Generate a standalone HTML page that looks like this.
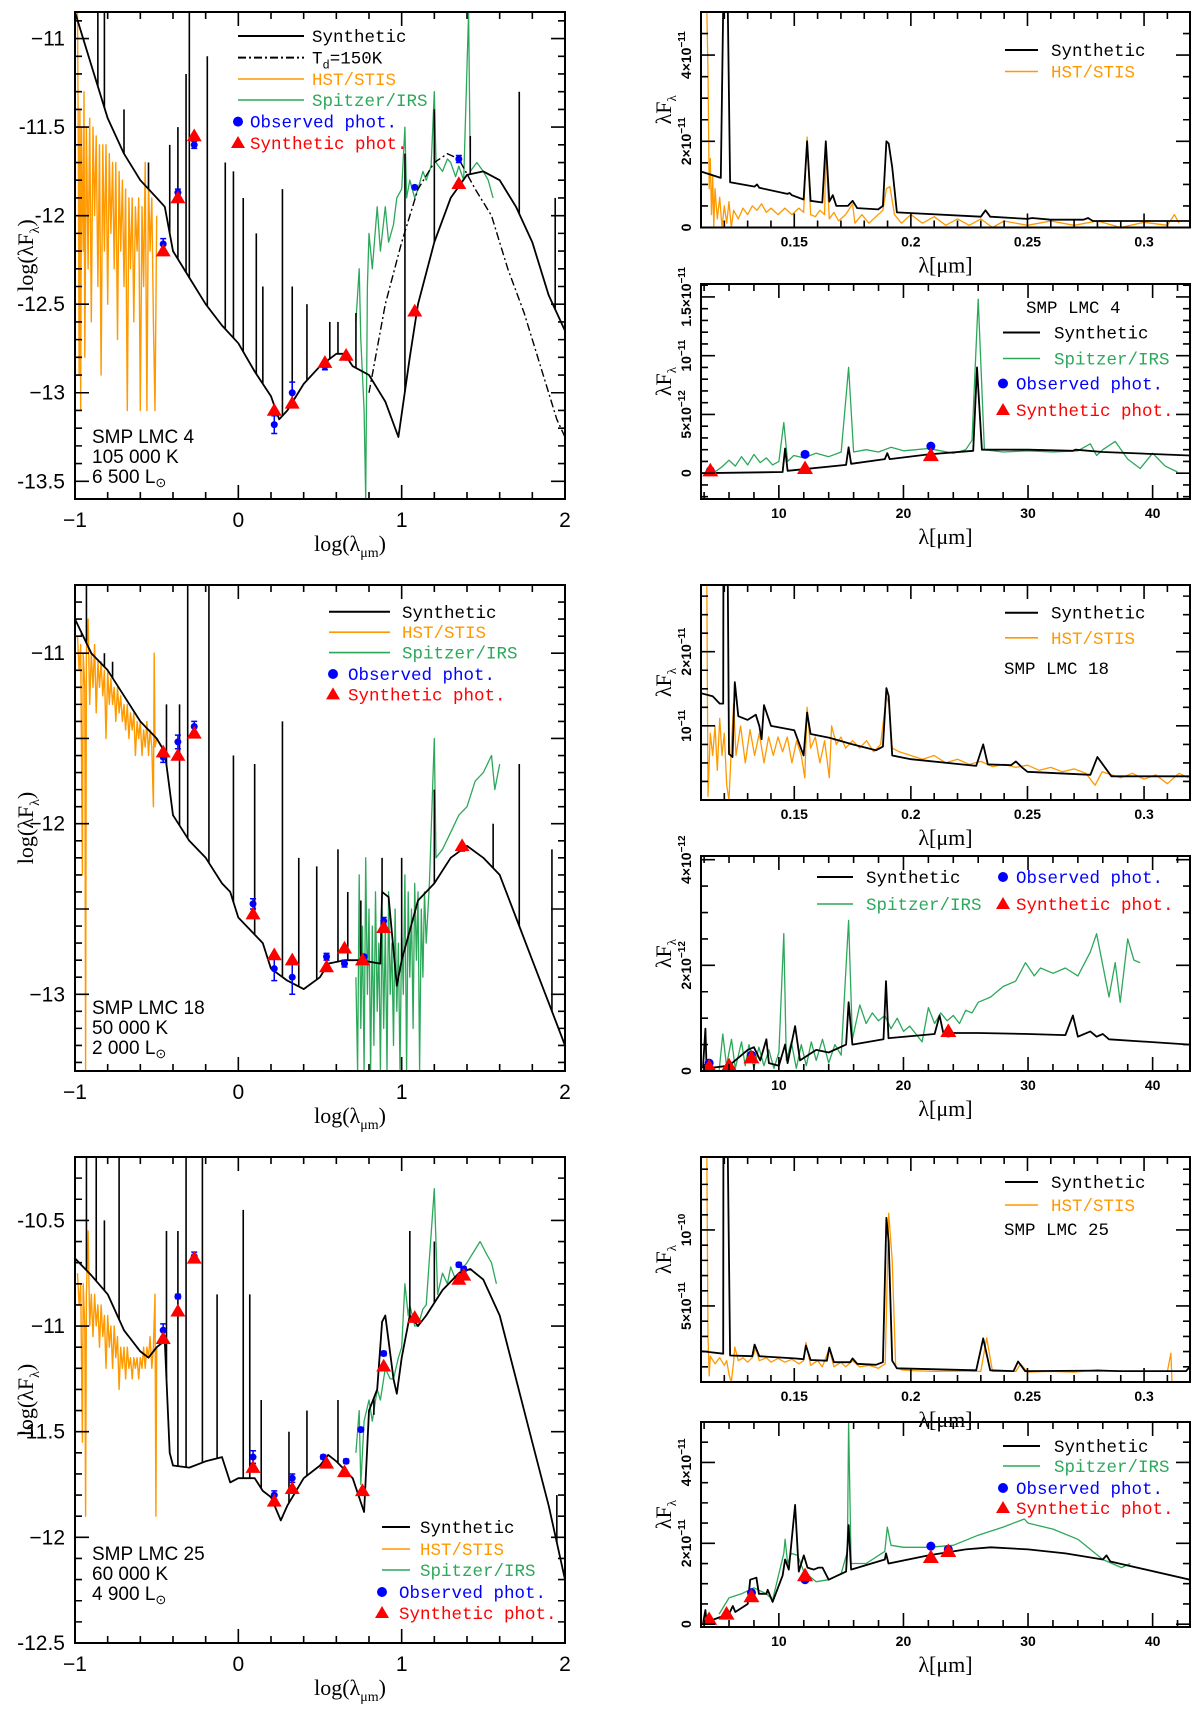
<!DOCTYPE html>
<html><head><meta charset="utf-8"><title>SED fits</title>
<style>
html,body{margin:0;padding:0;background:#fff;}
svg{display:block;}
.tk{font-family:"Liberation Sans",sans-serif;font-size:21px;fill:#000;}
.tkr{font-family:"Liberation Sans",sans-serif;font-size:14px;font-weight:bold;fill:#000;}
.lg{font-family:"Liberation Mono",monospace;font-size:17.5px;}
.lb{font-family:"Liberation Sans",sans-serif;font-size:19px;fill:#000;}
.ttl{font-family:"Liberation Serif",serif;font-size:22px;fill:#000;}
</style></head>
<body>
<svg id="fig" xmlns="http://www.w3.org/2000/svg" width="1200" height="1714" viewBox="0 0 1200 1714"></svg>
<script>
// ===== Panel A: SMP LMC 4 SED (log) =====
const synA=[[-1,-10.85],[-0.9,-11.15],[-0.8,-11.45],[-0.7,-11.65],[-0.6,-11.8],[-0.5,-11.9],[-0.45,-11.95],[-0.4,-12.2],[-0.3,-12.35],[-0.2,-12.5],[-0.1,-12.62],[0,-12.72],[0.1,-12.88],[0.2,-13.02],[0.25,-13.15],[0.3,-13.1],[0.4,-12.95],[0.5,-12.85],[0.6,-12.78],[0.65,-12.78],[0.7,-12.85],[0.8,-12.9],[0.9,-13.05],[0.98,-13.25],[1.05,-12.8],[1.1,-12.5],[1.2,-12.15],[1.3,-11.9],[1.4,-11.77],[1.5,-11.75],[1.6,-11.8],[1.7,-11.95],[1.8,-12.15],[1.9,-12.45],[2,-12.65]];
const linesA=[[-0.86,-10.85],[-0.82,-10.85],[-0.7,-11.4],[-0.55,-11.7],[-0.42,-11.6],[-0.37,-11.5],[-0.32,-11.2],[-0.3,-10.85],[-0.19,-11.1],[-0.08,-11.7],[-0.03,-11.75],[0.03,-11.9],[0.11,-12.1],[0.15,-12.4],[0.27,-11.85],[0.33,-12.4],[0.42,-12.5],[0.56,-12.6],[0.61,-12.6],[0.72,-12.55],[1.02,-11.65],[1.2,-11.4],[1.42,-11.55],[1.72,-11.3],[1.94,-11.9]];
const dustA=[[0.8,-13.0],[0.9,-12.5],[1.0,-12.15],[1.1,-11.85],[1.2,-11.7],[1.28,-11.65],[1.35,-11.68],[1.45,-11.85],[1.55,-12.0],[1.65,-12.3],[1.75,-12.55],[1.85,-12.85],[1.95,-13.15],[2.0,-13.25]];
const hstA=[[-0.985,-10.85],[-0.98,-11.6],[-0.975,-12.9],[-0.97,-11.4],[-0.965,-13.1],[-0.96,-11.5],[-0.95,-12.2],[-0.945,-11.3],[-0.94,-12.8],[-0.93,-11.5],[-0.92,-12.3],[-0.91,-11.45],[-0.9,-12.6],[-0.89,-11.5],[-0.88,-12.0],[-0.87,-11.55],[-0.86,-12.4],[-0.85,-11.6],[-0.84,-12.9],[-0.83,-11.6],[-0.82,-12.2],[-0.81,-11.6],[-0.8,-12.5],[-0.79,-11.65],[-0.78,-12.1],[-0.77,-11.7],[-0.76,-12.3],[-0.75,-11.7],[-0.74,-12.7],[-0.73,-11.75],[-0.72,-12.2],[-0.71,-11.8],[-0.7,-12.4],[-0.69,-11.85],[-0.68,-13.1],[-0.67,-11.9],[-0.66,-12.3],[-0.65,-11.9],[-0.64,-12.6],[-0.63,-11.95],[-0.62,-12.2],[-0.61,-11.9],[-0.6,-13.1],[-0.59,-11.95],[-0.58,-12.4],[-0.57,-11.7],[-0.56,-13.1],[-0.55,-11.8],[-0.54,-12.2],[-0.53,-11.9],[-0.52,-12.6],[-0.51,-13.1],[-0.5,-12.0]];
const irsA=[[0.72,-12.6],[0.74,-12.3],[0.75,-12.7],[0.77,-13.1],[0.78,-13.6],[0.79,-12.4],[0.8,-12.1],[0.82,-12.3],[0.85,-11.95],[0.87,-12.2],[0.9,-11.95],[0.92,-12.15],[0.95,-12.05],[0.97,-11.9],[1.0,-11.85],[1.02,-11.5],[1.03,-11.9],[1.05,-11.8],[1.08,-11.9],[1.1,-11.85],[1.13,-11.75],[1.15,-11.8],[1.18,-11.72],[1.2,-11.3],[1.21,-11.7],[1.25,-11.75],[1.28,-11.68],[1.3,-11.7],[1.33,-11.78],[1.35,-11.72],[1.38,-11.8],[1.41,-10.85],[1.42,-11.75],[1.46,-11.7],[1.5,-11.75],[1.53,-11.8],[1.56,-11.9]];
const obsA=[[-0.46,-12.16],[-0.37,-11.87],[-0.27,-11.6],[0.22,-13.18],[0.33,-13.0],[0.53,-12.85],[0.66,-12.8],[1.08,-11.84],[1.35,-11.68]];
const errA=[0.03,0.02,0.02,0.05,0.06,0.02,0.01,0.01,0.02];
const sphA=[[-0.46,-12.2],[-0.37,-11.9],[-0.27,-11.55],[0.22,-13.1],[0.33,-13.06],[0.53,-12.83],[0.66,-12.79],[1.08,-12.54],[1.35,-11.82]];
const ticksA=[-13.5,-13,-12.5,-12,-11.5,-11];
const tickLabA=["-13.5","−13","-12.5","-12","-11.5","−11"];
// ===== Panel B: SMP LMC 4 UV =====
const synB=[[0.110,1.3],[0.1185,1.15],[0.1195,5.1],[0.1215,5.1],[0.1225,1.05],[0.133,0.95],[0.134,1.0],[0.135,0.92],[0.147,0.78],[0.148,0.8],[0.149,0.75],[0.154,0.65],[0.1555,2.0],[0.157,0.62],[0.162,0.58],[0.1635,2.0],[0.165,0.6],[0.1665,0.75],[0.168,0.5],[0.173,0.5],[0.175,0.62],[0.177,0.45],[0.186,0.42],[0.188,0.5],[0.1895,2.0],[0.1905,1.95],[0.192,1.4],[0.194,0.35],[0.23,0.25],[0.232,0.4],[0.234,0.25],[0.25,0.2],[0.252,0.22],[0.26,0.18],[0.274,0.18],[0.276,0.22],[0.278,0.15],[0.3197,0.15]];
const hstB=[[0.1125,5.1],[0.113,3.6],[0.1135,0.9],[0.114,1.6],[0.1145,0.3],[0.115,1.2],[0.1155,0.0],[0.116,0.9],[0.117,0.2],[0.118,0.7],[0.119,0.0],[0.12,0.5],[0.121,0.1],[0.122,0.6],[0.123,0.0],[0.124,0.4],[0.126,0.2],[0.128,0.45],[0.13,0.3],[0.132,0.5],[0.134,0.4],[0.136,0.55],[0.138,0.35],[0.14,0.45],[0.143,0.3],[0.146,0.45],[0.149,0.3],[0.152,0.45],[0.154,0.35],[0.1555,2.1],[0.157,0.3],[0.159,0.25],[0.161,0.4],[0.163,0.3],[0.1635,1.8],[0.165,0.2],[0.167,0.35],[0.169,0.15],[0.172,0.3],[0.175,0.55],[0.176,0.1],[0.179,0.3],[0.182,0.1],[0.185,0.25],[0.188,0.4],[0.1895,0.9],[0.191,0.95],[0.193,0.3],[0.196,0.1],[0.2,0.3],[0.205,0.1],[0.21,0.25],[0.215,0.05],[0.22,0.2],[0.225,0.05],[0.23,0.2],[0.235,0.0],[0.24,0.15],[0.25,0.05],[0.26,0.15],[0.27,0.05],[0.28,0.15],[0.29,0.0],[0.3,0.12],[0.31,0.05],[0.313,0.3],[0.315,0.1]];
const ticksB=[0,2,4];
const tickLabB=["0","2×10","4×10"];
const tickExpB=["","−11","−11"];
// ===== Panel C: SMP LMC 4 IR =====
const synC=[[3.75,0],[10.3,0.01],[10.5,0.21],[10.7,0.02],[15.4,0.07],[15.6,0.22],[15.8,0.08],[18.5,0.12],[18.7,0.17],[18.9,0.12],[22,0.16],[25.6,0.19],[25.9,0.9],[26.3,0.2],[30,0.2],[33.6,0.19],[33.8,0.2],[36,0.18],[43,0.15]];
const irsC=[[4.3,0.0],[5,0.02],[5.5,0.06],[6,0.11],[6.5,0.06],[7,0.14],[7.5,0.07],[8,0.16],[8.5,0.09],[9,0.13],[9.5,0.07],[10,0.1],[10.4,0.43],[10.7,0.1],[11.2,0.15],[12,0.13],[13,0.17],[14,0.14],[15,0.18],[15.6,0.9],[16,0.18],[17,0.2],[18,0.18],[19,0.22],[20,0.19],[21,0.2],[22,0.21],[23,0.19],[24,0.17],[25,0.2],[25.5,0.28],[26,1.48],[26.5,0.2],[28,0.18],[30,0.19],[32,0.18],[34,0.19],[35,0.25],[35.5,0.15],[36,0.2],[37,0.27],[38,0.12],[39,0.04],[40,0.17],[41,0.06],[42,0.01]];
const obsC=[[4.5,0.02],[12.1,0.16],[22.2,0.23]];
const sphC=[[4.5,0.02],[12.1,0.04],[22.2,0.15]];
const ticksC=[0,0.5,1.0,1.5];
const tickLabC=["0","5×10","10","1.5×10"];
const tickExpC=["","−12","−11","−11"];
// ===== Panel D: SMP LMC 18 SED =====
const synD=[[-1,-10.8],[-0.9,-11.0],[-0.8,-11.1],[-0.7,-11.25],[-0.6,-11.4],[-0.5,-11.5],[-0.45,-11.58],[-0.4,-11.95],[-0.3,-12.1],[-0.2,-12.2],[-0.1,-12.35],[-0.05,-12.4],[0,-12.55],[0.1,-12.65],[0.15,-12.7],[0.2,-12.85],[0.3,-12.92],[0.4,-12.97],[0.5,-12.9],[0.55,-12.82],[0.65,-12.8],[0.75,-12.8],[0.87,-12.82],[0.88,-12.4],[0.92,-12.43],[0.97,-12.95],[1.0,-12.8],[1.1,-12.45],[1.2,-12.35],[1.3,-12.2],[1.4,-12.13],[1.5,-12.2],[1.6,-12.3],[1.7,-12.55],[1.8,-12.8],[1.9,-13.05],[2.0,-13.3]];
const linesD=[[-0.96,-10.9],[-0.93,-10.6],[-0.82,-11.0],[-0.77,-11.05],[-0.44,-11.3],[-0.36,-11.3],[-0.31,-10.6],[-0.18,-10.6],[-0.03,-11.6],[0.1,-11.65],[0.27,-11.4],[0.37,-12.2],[0.48,-12.25],[0.61,-12.15],[0.67,-12.4],[0.75,-12.45],[0.88,-12.2],[1.0,-12.2],[1.2,-11.8],[1.56,-12.0],[1.72,-11.65],[1.92,-12.15]];
const hstD=[[-0.985,-10.9],[-0.975,-11.1],[-0.965,-10.95],[-0.955,-12.3],[-0.95,-11.0],[-0.94,-11.2],[-0.935,-13.45],[-0.93,-11.0],[-0.92,-10.8],[-0.91,-11.3],[-0.9,-11.0],[-0.89,-11.2],[-0.88,-10.95],[-0.87,-11.35],[-0.86,-11.05],[-0.85,-11.2],[-0.84,-11.05],[-0.83,-11.25],[-0.82,-11.1],[-0.81,-11.5],[-0.8,-11.1],[-0.79,-11.3],[-0.78,-11.15],[-0.77,-11.3],[-0.76,-11.2],[-0.75,-11.4],[-0.74,-11.2],[-0.73,-11.35],[-0.72,-11.25],[-0.71,-11.4],[-0.7,-11.3],[-0.69,-11.45],[-0.68,-11.3],[-0.67,-11.5],[-0.66,-11.35],[-0.65,-11.45],[-0.64,-11.35],[-0.63,-11.6],[-0.62,-11.4],[-0.61,-11.5],[-0.6,-11.4],[-0.59,-11.6],[-0.58,-11.45],[-0.57,-11.55],[-0.56,-11.4],[-0.55,-11.6],[-0.54,-11.45],[-0.53,-11.55],[-0.52,-11.9],[-0.515,-11.0],[-0.51,-11.55],[-0.5,-11.5]];
const irsD=[[0.72,-12.9],[0.73,-13.45],[0.74,-12.3],[0.75,-13.2],[0.76,-12.6],[0.77,-13.45],[0.78,-12.2],[0.79,-13.0],[0.8,-12.5],[0.81,-13.45],[0.82,-12.6],[0.83,-13.3],[0.84,-12.4],[0.85,-13.1],[0.86,-12.7],[0.87,-13.45],[0.88,-12.5],[0.89,-13.2],[0.9,-12.6],[0.91,-13.45],[0.92,-12.4],[0.93,-13.0],[0.94,-12.7],[0.95,-13.3],[0.96,-12.5],[0.97,-13.1],[0.98,-12.7],[0.99,-13.45],[1.0,-12.6],[1.01,-13.0],[1.02,-12.3],[1.03,-13.45],[1.04,-12.4],[1.05,-12.9],[1.06,-12.5],[1.07,-13.2],[1.08,-12.35],[1.09,-12.8],[1.1,-12.4],[1.11,-13.45],[1.12,-12.5],[1.13,-12.9],[1.14,-12.4],[1.15,-12.7],[1.17,-12.35],[1.2,-11.5],[1.21,-12.2],[1.25,-12.15],[1.3,-12.05],[1.35,-11.95],[1.4,-11.9],[1.45,-11.75],[1.5,-11.7],[1.55,-11.6],[1.57,-11.8],[1.6,-11.65]];
const obsD=[[-0.46,-11.61],[-0.37,-11.52],[-0.27,-11.43],[0.09,-12.47],[0.22,-12.85],[0.33,-12.9],[0.54,-12.78],[0.65,-12.82],[0.77,-12.78],[0.89,-12.57],[1.37,-12.14]];
const errD=[0.03,0.04,0.03,0.03,0.07,0.1,0.02,0.02,0.01,0.02,0.02];
const sphD=[[-0.46,-11.58],[-0.37,-11.6],[-0.27,-11.47],[0.09,-12.53],[0.22,-12.77],[0.33,-12.8],[0.54,-12.84],[0.65,-12.73],[0.76,-12.8],[0.89,-12.61],[1.37,-12.13]];
const ticksD=[-13,-12,-11];
const tickLabD=["−13","−12","−11"];
// ===== Panel E: SMP LMC 18 UV =====
const synE=[[0.110,1.44],[0.115,1.4],[0.118,1.3],[0.1195,1.3],[0.1196,2.95],[0.1215,2.95],[0.122,0.62],[0.1235,0.58],[0.1245,1.59],[0.126,1.13],[0.13,1.08],[0.1335,1.15],[0.135,1.0],[0.136,0.82],[0.137,1.28],[0.14,1.0],[0.15,0.94],[0.154,0.6],[0.1555,1.18],[0.157,0.89],[0.165,0.84],[0.175,0.75],[0.185,0.67],[0.188,0.72],[0.1895,1.51],[0.1905,1.4],[0.192,0.6],[0.2,0.55],[0.228,0.46],[0.231,0.75],[0.233,0.48],[0.243,0.47],[0.245,0.52],[0.248,0.43],[0.25,0.38],[0.277,0.34],[0.28,0.58],[0.286,0.32],[0.3197,0.32]];
const hstE=[[0.1125,2.95],[0.113,0.05],[0.114,0.9],[0.115,0.6],[0.116,1.0],[0.117,0.4],[0.118,1.1],[0.119,0.6],[0.12,0.9],[0.121,0.2],[0.122,0.0],[0.123,0.7],[0.124,1.3],[0.125,0.6],[0.127,1.0],[0.129,0.5],[0.131,0.95],[0.133,0.6],[0.135,0.9],[0.137,0.5],[0.139,0.85],[0.141,0.6],[0.143,0.85],[0.145,0.65],[0.147,0.85],[0.149,0.5],[0.151,0.8],[0.153,0.6],[0.1545,0.3],[0.1555,1.25],[0.157,0.7],[0.159,0.85],[0.161,0.5],[0.163,0.8],[0.165,0.3],[0.166,1.0],[0.168,0.75],[0.17,0.85],[0.172,0.7],[0.175,0.8],[0.178,0.7],[0.181,0.8],[0.184,0.65],[0.187,0.75],[0.1895,1.4],[0.1905,1.3],[0.192,0.7],[0.195,0.65],[0.2,0.6],[0.205,0.55],[0.21,0.6],[0.215,0.5],[0.22,0.55],[0.225,0.48],[0.23,0.52],[0.235,0.45],[0.24,0.48],[0.245,0.44],[0.25,0.47],[0.255,0.4],[0.26,0.44],[0.265,0.38],[0.27,0.42],[0.275,0.36],[0.279,0.2],[0.282,0.38],[0.29,0.3],[0.295,0.36],[0.3,0.28],[0.305,0.34],[0.31,0.22],[0.315,0.36],[0.319,0.3]];
const ticksE=[1,2];
const tickLabE=["10","2×10"];
const tickExpE=["−11","−11"];
// ===== Panel F: SMP LMC 18 IR =====
const synF=[[3.9,0.05],[4.1,0.8],[4.2,0.05],[6,0.1],[7.5,0.4],[8,0.45],[8.5,0.2],[9,0.6],[9.2,0.15],[10,0.1],[10.5,0.5],[10.7,0.15],[11.3,0.85],[11.7,0.2],[13,0.4],[14,0.35],[15.4,0.5],[15.6,1.3],[15.9,0.5],[18.4,0.6],[18.6,1.7],[18.8,0.62],[22.5,0.7],[22.9,1.05],[23.2,0.72],[26,0.72],[30,0.7],[33,0.68],[33.6,1.05],[34,0.65],[35,0.75],[35.5,0.65],[36,0.7],[36.5,0.6],[43,0.5]];
const irsF=[[5.2,0.0],[5.5,0.7],[5.8,0.1],[6.2,0.6],[6.5,0.05],[7,0.55],[7.3,0.1],[7.6,0.5],[8,0.05],[8.4,0.45],[8.8,0.1],[9.2,0.4],[9.6,0.05],[10,0.35],[10.4,2.6],[10.6,0.2],[11,0.55],[11.4,0.05],[11.8,0.5],[12.2,0.1],[12.6,0.55],[13,0.2],[13.5,0.6],[14,0.15],[14.5,0.5],[15,0.3],[15.6,2.85],[15.9,0.6],[16.5,1.25],[17,0.9],[17.5,1.1],[18,0.95],[18.5,1.05],[19,0.8],[19.5,1.0],[20,0.75],[20.5,0.85],[21,0.7],[21.5,0.55],[22,1.2],[22.5,0.9],[23,1.1],[23.5,0.95],[24,1.05],[24.5,0.9],[25,1.15],[25.5,1.1],[26,1.3],[27,1.4],[28,1.6],[29,1.7],[29.8,2.05],[30.5,1.8],[31,1.95],[32,1.85],[33,1.95],[34,1.8],[35,2.25],[35.5,2.6],[36.5,1.4],[37,2.05],[37.4,1.3],[38,2.5],[38.5,2.1],[39,2.05]];
const obsF=[[4.4,0.15],[7.8,0.3],[23.6,0.72]];
const sphF=[[4.4,0.08],[6,0.1],[7.8,0.25],[23.6,0.75]];
const ticksF=[0,2,4];
const tickLabF=["0","2×10","4×10"];
const tickExpF=["","−12","−12"];
// ===== Panel G: SMP LMC 25 SED =====
const synG=[[-1,-10.68],[-0.9,-10.76],[-0.8,-10.85],[-0.7,-11.02],[-0.6,-11.12],[-0.55,-11.15],[-0.5,-11.1],[-0.45,-11.07],[-0.42,-11.6],[-0.4,-11.66],[-0.3,-11.67],[-0.2,-11.64],[-0.1,-11.62],[-0.05,-11.74],[0,-11.72],[0.1,-11.72],[0.15,-11.78],[0.2,-11.81],[0.26,-11.92],[0.3,-11.85],[0.4,-11.72],[0.5,-11.66],[0.55,-11.61],[0.6,-11.64],[0.7,-11.72],[0.77,-11.88],[0.8,-11.4],[0.85,-11.3],[0.88,-10.98],[0.9,-10.95],[0.95,-11.25],[0.97,-11.32],[1.0,-11.15],[1.05,-10.95],[1.1,-11.0],[1.15,-10.95],[1.25,-10.83],[1.35,-10.75],[1.42,-10.73],[1.5,-10.78],[1.6,-10.95],[1.7,-11.25],[1.8,-11.55],[1.9,-11.85],[2.0,-12.2]];
const linesG=[[-0.93,-10.2],[-0.87,-10.2],[-0.82,-10.5],[-0.73,-10.2],[-0.44,-10.55],[-0.37,-10.55],[-0.32,-10.2],[-0.22,-10.2],[-0.13,-10.85],[0.03,-10.45],[0.07,-10.85],[0.14,-11.35],[0.31,-11.5],[0.42,-11.4],[0.61,-11.35],[0.83,-11.42],[1.05,-10.55],[1.2,-10.6],[1.95,-11.8]];
const hstG=[[-0.985,-10.75],[-0.975,-10.9],[-0.965,-10.8],[-0.955,-11.55],[-0.95,-10.8],[-0.94,-11.0],[-0.935,-11.9],[-0.93,-10.85],[-0.92,-10.55],[-0.91,-11.0],[-0.9,-10.85],[-0.89,-11.05],[-0.88,-10.85],[-0.87,-11.0],[-0.86,-10.9],[-0.85,-11.1],[-0.84,-10.9],[-0.83,-11.05],[-0.82,-10.95],[-0.81,-11.2],[-0.8,-10.95],[-0.79,-11.1],[-0.78,-11.0],[-0.77,-11.2],[-0.76,-11.0],[-0.75,-11.15],[-0.74,-11.05],[-0.73,-11.3],[-0.72,-11.1],[-0.71,-11.2],[-0.7,-11.1],[-0.69,-11.25],[-0.68,-11.1],[-0.67,-11.2],[-0.66,-11.15],[-0.65,-11.25],[-0.64,-11.15],[-0.63,-11.2],[-0.62,-11.15],[-0.61,-11.25],[-0.6,-11.15],[-0.59,-11.2],[-0.58,-11.1],[-0.57,-11.2],[-0.56,-11.1],[-0.55,-11.15],[-0.54,-11.05],[-0.53,-11.2],[-0.52,-11.1],[-0.51,-10.85],[-0.505,-11.9],[-0.5,-11.1]];
const irsG=[[0.72,-11.6],[0.74,-11.4],[0.75,-11.75],[0.77,-11.45],[0.8,-11.35],[0.82,-11.45],[0.85,-11.3],[0.87,-11.35],[0.9,-11.2],[0.93,-11.25],[0.95,-11.25],[0.98,-11.15],[1.0,-11.1],[1.02,-10.8],[1.04,-10.95],[1.05,-10.9],[1.08,-11.0],[1.1,-11.0],[1.13,-10.92],[1.15,-10.9],[1.2,-10.35],[1.22,-10.85],[1.25,-10.75],[1.28,-10.8],[1.3,-10.72],[1.33,-10.78],[1.35,-10.75],[1.4,-10.7],[1.44,-10.65],[1.48,-10.6],[1.52,-10.66],[1.55,-10.7],[1.58,-10.8]];
const obsG=[[-0.46,-11.02],[-0.37,-10.86],[-0.27,-10.67],[0.09,-11.62],[0.22,-11.8],[0.33,-11.72],[0.52,-11.62],[0.66,-11.64],[0.75,-11.49],[0.89,-11.13],[1.08,-10.97],[1.35,-10.71],[1.38,-10.73]];
const errG=[0.03,0.01,0.02,0.03,0.02,0.02,0.01,0.01,0.01,0.01,0.01,0.01,0.01];
const sphG=[[-0.46,-11.06],[-0.37,-10.93],[-0.27,-10.68],[0.09,-11.67],[0.22,-11.83],[0.33,-11.77],[0.54,-11.65],[0.65,-11.69],[0.76,-11.78],[0.89,-11.19],[1.08,-10.96],[1.35,-10.78],[1.38,-10.76]];
const ticksG=[-12.5,-12,-11.5,-11,-10.5];
const tickLabG=["-12.5","−12","-11.5","−11","-10.5"];
// ===== Panel H: SMP LMC 25 UV =====
const synH=[[0.110,2.03],[0.1195,1.86],[0.1196,15],[0.1215,15],[0.1225,1.74],[0.132,1.7],[0.133,2.46],[0.135,1.7],[0.15,1.55],[0.154,1.5],[0.155,2.4],[0.157,1.45],[0.164,1.4],[0.165,2.27],[0.167,1.3],[0.174,1.3],[0.175,1.55],[0.177,1.2],[0.185,1.13],[0.188,1.3],[0.1895,10.8],[0.1905,9.2],[0.192,1.4],[0.194,0.9],[0.228,0.77],[0.231,2.87],[0.234,0.77],[0.244,0.72],[0.246,1.35],[0.249,0.72],[0.28,0.75],[0.29,0.72],[0.318,0.72],[0.3197,1.0]];
const hstH=[[0.1125,15],[0.113,3.0],[0.1135,0.4],[0.114,1.7],[0.116,1.2],[0.118,1.6],[0.12,1.1],[0.121,1.4],[0.122,0.5],[0.123,0.0],[0.124,1.3],[0.1245,2.3],[0.126,1.4],[0.128,1.6],[0.13,1.3],[0.132,1.6],[0.1335,2.2],[0.135,1.4],[0.138,1.6],[0.14,1.3],[0.143,1.55],[0.146,1.3],[0.149,1.5],[0.152,1.2],[0.154,1.4],[0.155,2.6],[0.157,1.1],[0.16,1.4],[0.162,1.0],[0.165,2.2],[0.167,1.0],[0.17,1.3],[0.172,1.0],[0.175,1.4],[0.178,1.0],[0.182,1.1],[0.186,0.9],[0.189,1.2],[0.1905,11.1],[0.192,8.0],[0.1935,1.0],[0.196,0.8],[0.2,0.75],[0.21,0.7],[0.22,0.72],[0.23,0.7],[0.2325,2.9],[0.235,0.7],[0.245,0.7],[0.247,1.2],[0.25,0.65],[0.26,0.7],[0.27,0.65],[0.28,0.8],[0.29,0.7],[0.3,0.72],[0.31,0.7],[0.3115,1.9],[0.312,0.0]];
const ticksH=[5,10];
const tickLabH=["5×10","10"];
const tickExpH=["−11","−10"];
// ===== Panel I: SMP LMC 25 IR =====
const synI=[[3.9,0],[4.1,0.35],[4.2,0.05],[5.5,0.2],[6,0.25],[6.3,0.45],[6.5,0.3],[7.5,0.5],[7.7,1.1],[8.2,1.15],[8.4,0.75],[9,0.75],[9.1,0.85],[9.5,0.55],[10.3,1.2],[10.5,1.6],[10.8,1.35],[11.3,2.95],[11.6,1.3],[12,1.7],[12.3,1.4],[12.8,1.35],[13.2,1.4],[13.5,1.4],[14,1.1],[15.4,1.3],[15.6,2.45],[15.8,1.35],[18.5,1.6],[18.6,1.75],[18.8,1.5],[22,1.7],[25,1.85],[27,1.9],[30,1.85],[33,1.75],[36,1.6],[36.3,1.7],[36.6,1.55],[43,1.1]];
const irsI=[[5.2,0.25],[6,0.65],[7,0.75],[8,0.9],[9,0.75],[9.5,0.6],[10.4,1.75],[10.5,2.1],[10.7,1.5],[11,1.75],[11.5,1.7],[12,1.3],[13,1.05],[14,1.1],[15,1.25],[15.5,1.8],[15.6,5.0],[15.8,1.5],[17,1.5],[18.5,1.8],[18.7,2.4],[19,1.95],[20,1.9],[22,1.9],[24,1.95],[26,2.2],[28,2.4],[29.7,2.6],[30,2.5],[32,2.35],[34,2.1],[36,1.6],[37.5,1.4],[38.2,1.5]];
const obsI=[[7.8,0.78],[12.1,1.1],[22.2,1.93],[23.6,1.85]];
const sphI=[[4.4,0.12],[5.8,0.25],[7.8,0.68],[12.1,1.2],[22.2,1.65],[23.6,1.8]];
const ticksI=[0,2,4];
const tickLabI=["0","2×10","4×10"];
const tickExpI=["","−11","−11"];

const NS="http://www.w3.org/2000/svg";
const svg=document.getElementById('fig');
const ORANGE="#ff9900", GREEN="#2ca85a", BLUE="#0000ff", RED="#ff0000";
let clipN=0;
function mk(tag,attrs,parent){const e=document.createElementNS(NS,tag);for(const k in attrs)e.setAttribute(k,attrs[k]);(parent||svg).appendChild(e);return e;}
function makePanel(name,x0,x1,y0,y1,xd,yd){
  const g=mk('g',{});
  
  
  const sx=v=>x0+(v-xd[0])/(xd[1]-xd[0])*(x1-x0);
  const sy=v=>y1-(v-yd[0])/(yd[1]-yd[0])*(y1-y0);
  const id='c'+(clipN++);
  const cp=mk('clipPath',{id:id},g);mk('rect',{x:x0,y:y0,width:x1-x0,height:y1-y0},cp);
  const plot=mk('g',{'clip-path':'url(#'+id+')'},g);
  return {g,plot,sx,sy,x0,x1,y0,y1,xd,yd};
}
function line(P,data,color,w,nm,dash){
  const d=data.map((p,i)=>(i?'L':'M')+P.sx(p[0]).toFixed(1)+' '+P.sy(p[1]).toFixed(1)).join('');
  const e=mk('path',{d:d,fill:'none',stroke:color,'stroke-width':w,'stroke-linejoin':'round'},P.plot);
  if(dash)e.setAttribute('stroke-dasharray',dash);
  
  
}
function spikes(P,base,lines,nm){
  const interp=x=>{for(let i=1;i<base.length;i++){if(x<=base[i][0]){const a=base[i-1],b=base[i];return a[1]+(b[1]-a[1])*(x-a[0])/(b[0]-a[0]);}}return base[base.length-1][1];};
  lines.forEach(l=>{
    const e=mk('line',{x1:P.sx(l[0]),x2:P.sx(l[0]),y1:P.sy(interp(l[0])),y2:P.sy(l[1]),stroke:'#000','stroke-width':1.6},P.plot);
    
    
  });
}
function obsPts(P,data,err,r){
  data.forEach((p,i)=>{
    const cx=P.sx(p[0]),cy=P.sy(p[1]);
    if(err){const e=err[i];const el=mk('path',{d:`M${cx} ${P.sy(p[1]-e)}L${cx} ${P.sy(p[1]+e)}M${cx-3} ${P.sy(p[1]-e)}L${cx+3} ${P.sy(p[1]-e)}M${cx-3} ${P.sy(p[1]+e)}L${cx+3} ${P.sy(p[1]+e)}`,stroke:BLUE,'stroke-width':1.5,fill:'none'},P.plot);
      
      }
    const c=mk('circle',{cx:cx,cy:cy,r:r||3.5,fill:BLUE},P.plot);
    
    
  });
}
function synPts(P,data,s){
  s=s||7.5;
  data.forEach(p=>{
    const cx=P.sx(p[0]),cy=P.sy(p[1]);
    const t=mk('path',{d:`M${cx} ${cy-s}L${cx+s} ${cy+s*0.7}L${cx-s} ${cy+s*0.7}Z`,fill:RED},P.plot);
    
    
  });
}
function frame(P,xMinor,xMajor,yMinor,yMajor){
  const f=mk('rect',{x:P.x0,y:P.y0,width:P.x1-P.x0,height:P.y1-P.y0,fill:'none',stroke:'#000','stroke-width':2},P.g);
  
  
  let d='';
  const eps=1e-6;
  for(let v=Math.ceil(P.xd[0]/xMinor-eps)*xMinor;v<=P.xd[1]+eps;v+=xMinor){
    const maj=Math.abs(v/xMajor-Math.round(v/xMajor))<1e-4;const L=maj?14:7;const x=P.sx(v);
    d+=`M${x} ${P.y1}L${x} ${P.y1-L}M${x} ${P.y0}L${x} ${P.y0+L}`;}
  for(let v=Math.ceil(P.yd[0]/yMinor-eps)*yMinor;v<=P.yd[1]+eps;v+=yMinor){
    const maj=Math.abs(v/yMajor-Math.round(v/yMajor))<1e-4;const L=maj?14:7;const y=P.sy(v);
    d+=`M${P.x0} ${y}L${P.x0+L} ${y}M${P.x1} ${y}L${P.x1-L} ${y}`;}
  const t=mk('path',{d:d,stroke:'#000','stroke-width':1.6,fill:'none'},P.g);
  
  
}
function txt(parent,x,y,s,cls,fill,nm,anchor){
  const t=mk('text',{x:x,y:y,class:cls},parent);
  if(fill)t.setAttribute('fill',fill);
  if(anchor)t.setAttribute('text-anchor',anchor);
  t.textContent=s;
  
  
  return t;
}
function leftAxes(P,ticks,labs){
  ticks.forEach((v,i)=>txt(P.g,P.x0-10,P.sy(v)+7,labs[i],'tk',null,'y-tick-label','end'));
  [-1,0,1,2].forEach(v=>txt(P.g,P.sx(v),P.y1+28,v<0?'−1':String(v),'tk',null,'x-tick-label','middle'));
  const xt=mk('text',{x:(P.x0+P.x1)/2+30,y:P.y1+52,class:'ttl','text-anchor':'middle'},P.g);
  xt.innerHTML='log(λ<tspan font-size="14" dy="6">μm</tspan><tspan dy="-6">)</tspan>';
  
  
  const yc=(P.y0+P.y1)/2;
  const yt=mk('text',{x:0,y:0,class:'ttl','text-anchor':'middle',transform:`translate(33 ${yc}) rotate(-90)`},P.g);
  yt.innerHTML='log(λF<tspan font-size="14" dy="6">λ</tspan><tspan dy="-6">)</tspan>';
  
  
}
function rightAxes(P,ticks,labs,exps,xticks,xlabs){
  ticks.forEach((v,i)=>{
    const t=mk('text',{x:0,y:0,class:'tkr','text-anchor':'middle',transform:`translate(${P.x0-10} ${P.sy(v)}) rotate(-90)`},P.g);
    t.innerHTML=labs[i]+(exps[i]?'<tspan font-size="10" dy="-6">'+exps[i]+'</tspan>':'');
    
    
  });
  xticks.forEach((v,i)=>txt(P.g,P.sx(v),P.y1+19,xlabs[i],'tkr',null,'x-tick-label','middle'));
  txt(P.g,(P.x0+P.x1)/2,P.y1+45,'λ[μm]','ttl',null,'x-axis-title','middle');
  const yc=(P.y0+P.y1)/2;
  const yt=mk('text',{x:0,y:0,class:'ttl','text-anchor':'middle',transform:`translate(${P.x0-30} ${yc-10}) rotate(-90)`},P.g);
  yt.innerHTML='λF<tspan font-size="13" dy="5">λ</tspan>';
  
  
}
function legLine(P,x1,x2,y,color,dash,label,tx,nm){
  const l=mk('line',{x1:x1,x2:x2,y1:y,y2:y,stroke:color,'stroke-width':color==='#000'?2:1.6},P.g);
  if(dash)l.setAttribute('stroke-dasharray',dash);
  
  
  return txt(P.g,tx,y+6,label,'lg',color,nm);
}
function legDot(P,x,y,tx){
  const c=mk('circle',{cx:x,cy:y,r:5,fill:BLUE},P.g);
  
  
  txt(P.g,tx,y+6,'Observed phot.','lg',BLUE,'legend-observed-phot');
}
function legTri(P,x,y,tx){
  const t=mk('path',{d:`M${x} ${y-7}L${x+7} ${y+5}L${x-7} ${y+5}Z`,fill:RED},P.g);
  
  
  txt(P.g,tx,y+6,'Synthetic phot.','lg',RED,'legend-synthetic-phot');
}
function infoBlock(P,y,lines){
  lines.forEach((s,i)=>{const t=mk('text',{x:92,y:y+i*20,class:'lb'},P.g);t.innerHTML=s;
    
    });
}
const LX0=75,LX1=565,RX0=701,RX1=1190;
const uvTicks=[0.15,0.2,0.25,0.3], uvLabs=["0.15","0.2","0.25","0.3"];
const irTicks=[10,20,30,40], irLabs=["10","20","30","40"];

// Panel A
let P=makePanel('sed-panel-smp-lmc-4',LX0,LX1,12,499,[-1,2],[-13.6,-10.85]);
line(P,hstA,ORANGE,1.4,'hst-stis-spectrum');
line(P,irsA,GREEN,1.3,'spitzer-irs-spectrum');
line(P,dustA,'#000',1.4,'dust-150k-curve','8 3 2 3');
line(P,synA,'#000',1.8,'synthetic-spectrum');
spikes(P,synA,linesA,'synthetic-emission-line');
obsPts(P,obsA,errA);synPts(P,sphA);
frame(P,0.2,1,0.1,0.5);leftAxes(P,ticksA,tickLabA);
legLine(P,238,304,36,'#000',null,'Synthetic',312,'legend-synthetic');
legLine(P,238,304,57.6,'#000','8 3 2 3','',312,'legend-dust');
{const t=mk('text',{x:312,y:63.6,class:'lg',fill:'#000'},P.g);t.innerHTML='T<tspan font-size="12" dy="5">d</tspan><tspan dy="-5">=150K</tspan>';}
legLine(P,238,304,79,ORANGE,null,'HST/STIS',312,'legend-hst-stis');
legLine(P,238,304,100,GREEN,null,'Spitzer/IRS',312,'legend-spitzer-irs');
legDot(P,238,121.6,250);legTri(P,238,143,250);
infoBlock(P,443,['SMP  LMC  4','105 000 K','6 500 L<tspan font-size="13" dy="4">⊙</tspan>']);

// Panel B
P=makePanel('uv-panel-smp-lmc-4',RX0,RX1,12,227.5,[0.110,0.3197],[0,5.0]);
line(P,hstB,ORANGE,1.3,'hst-stis-spectrum');
line(P,synB,'#000',1.8,'synthetic-spectrum');
frame(P,0.01,0.05,0.5,2);rightAxes(P,ticksB,tickLabB,tickExpB,uvTicks,uvLabs);
legLine(P,1005,1038,50,'#000',null,'Synthetic',1051,'legend-synthetic');
legLine(P,1005,1038,71.5,ORANGE,null,'HST/STIS',1051,'legend-hst-stis');

// Panel C
P=makePanel('ir-panel-smp-lmc-4',RX0,RX1,284,499,[3.75,43],[-0.22,1.61]);
line(P,irsC,GREEN,1.3,'spitzer-irs-spectrum');
line(P,synC,'#000',1.8,'synthetic-spectrum');
obsPts(P,obsC,null,4.5);synPts(P,sphC,8);
frame(P,2,10,0.1,0.5);rightAxes(P,ticksC,tickLabC,tickExpC,irTicks,irLabs);
txt(P.g,1026,313,'SMP  LMC  4','lg','#000','object-name');
legLine(P,1003,1040,332.5,'#000',null,'Synthetic',1054,'legend-synthetic');
legLine(P,1003,1040,358.5,GREEN,null,'Spitzer/IRS',1054,'legend-spitzer-irs');
legDot(P,1003,383.5,1016);legTri(P,1003,410,1016);

// Panel D
P=makePanel('sed-panel-smp-lmc-18',LX0,LX1,585,1071,[-1,2],[-13.45,-10.60]);
line(P,hstD,ORANGE,1.4,'hst-stis-spectrum');
line(P,irsD,GREEN,1.3,'spitzer-irs-spectrum');
line(P,synD,'#000',1.8,'synthetic-spectrum');
spikes(P,synD,linesD,'synthetic-emission-line');
obsPts(P,obsD,errD);synPts(P,sphD);
frame(P,0.2,1,0.1,0.5);leftAxes(P,ticksD,tickLabD);
legLine(P,329,390,611.8,'#000',null,'Synthetic',402,'legend-synthetic');
legLine(P,329,390,632.2,ORANGE,null,'HST/STIS',402,'legend-hst-stis');
legLine(P,329,390,652.6,GREEN,null,'Spitzer/IRS',402,'legend-spitzer-irs');
legDot(P,333,674,348);legTri(P,333,694.4,348);
infoBlock(P,1014,['SMP  LMC  18','50 000 K','2 000 L<tspan font-size="13" dy="4">⊙</tspan>']);

// Panel E
P=makePanel('uv-panel-smp-lmc-18',RX0,RX1,585,800,[0.110,0.3197],[0,2.9]);
line(P,hstE,ORANGE,1.3,'hst-stis-spectrum');
line(P,synE,'#000',1.8,'synthetic-spectrum');
frame(P,0.01,0.05,0.25,1);rightAxes(P,ticksE,tickLabE,tickExpE,uvTicks,uvLabs);
legLine(P,1005,1038,612.7,'#000',null,'Synthetic',1051,'legend-synthetic');
legLine(P,1005,1038,637.8,ORANGE,null,'HST/STIS',1051,'legend-hst-stis');
txt(P.g,1004,674,'SMP  LMC  18','lg','#000','object-name');

// Panel F
P=makePanel('ir-panel-smp-lmc-18',RX0,RX1,856,1071,[3.75,43],[0,4.07]);
line(P,irsF,GREEN,1.3,'spitzer-irs-spectrum');
line(P,synF,'#000',1.8,'synthetic-spectrum');
obsPts(P,obsF,null,4.5);synPts(P,sphF,8);
frame(P,2,10,0.5,2);rightAxes(P,ticksF,tickLabF,tickExpF,irTicks,irLabs);
legLine(P,817,853,877,'#000',null,'Synthetic',866,'legend-synthetic');
legLine(P,817,853,904,GREEN,null,'Spitzer/IRS',866,'legend-spitzer-irs');
legDot(P,1003,877,1016);legTri(P,1003,904,1016);

// Panel G
P=makePanel('sed-panel-smp-lmc-25',LX0,LX1,1157,1643,[-1,2],[-12.5,-10.2]);
line(P,hstG,ORANGE,1.4,'hst-stis-spectrum');
line(P,irsG,GREEN,1.3,'spitzer-irs-spectrum');
line(P,synG,'#000',1.8,'synthetic-spectrum');
spikes(P,synG,linesG,'synthetic-emission-line');
obsPts(P,obsG,errG);synPts(P,sphG);
frame(P,0.2,1,0.1,0.5);leftAxes(P,ticksG,tickLabG);
legLine(P,382,410,1527,'#000',null,'Synthetic',420,'legend-synthetic');
legLine(P,382,410,1549,ORANGE,null,'HST/STIS',420,'legend-hst-stis');
legLine(P,382,410,1570,GREEN,null,'Spitzer/IRS',420,'legend-spitzer-irs');
legDot(P,382,1592,399);legTri(P,382,1613,399);
infoBlock(P,1560,['SMP  LMC  25','60 000 K','4 900 L<tspan font-size="13" dy="4">⊙</tspan>']);

// Panel H
P=makePanel('uv-panel-smp-lmc-25',RX0,RX1,1157,1382,[0.110,0.3197],[0,14.8]);
line(P,hstH,ORANGE,1.3,'hst-stis-spectrum');
line(P,synH,'#000',1.8,'synthetic-spectrum');
frame(P,0.01,0.05,1,5);rightAxes(P,ticksH,tickLabH,tickExpH,uvTicks,uvLabs);
legLine(P,1005,1038,1182,'#000',null,'Synthetic',1051,'legend-synthetic');
legLine(P,1005,1038,1205,ORANGE,null,'HST/STIS',1051,'legend-hst-stis');
txt(P.g,1004,1235,'SMP  LMC  25','lg','#000','object-name');

// Panel I
P=makePanel('ir-panel-smp-lmc-25',RX0,RX1,1422,1627,[3.75,43],[-0.07,5.0]);
line(P,irsI,GREEN,1.3,'spitzer-irs-spectrum');
line(P,synI,'#000',1.8,'synthetic-spectrum');
obsPts(P,obsI,null,4.5);synPts(P,sphI,8);
frame(P,2,10,0.5,2);rightAxes(P,ticksI,tickLabI,tickExpI,irTicks,irLabs);
legLine(P,1003,1040,1446,'#000',null,'Synthetic',1054,'legend-synthetic');
legLine(P,1003,1040,1466,GREEN,null,'Spitzer/IRS',1054,'legend-spitzer-irs');
legDot(P,1003,1488,1016);legTri(P,1003,1508,1016);
</script>
</body></html>
